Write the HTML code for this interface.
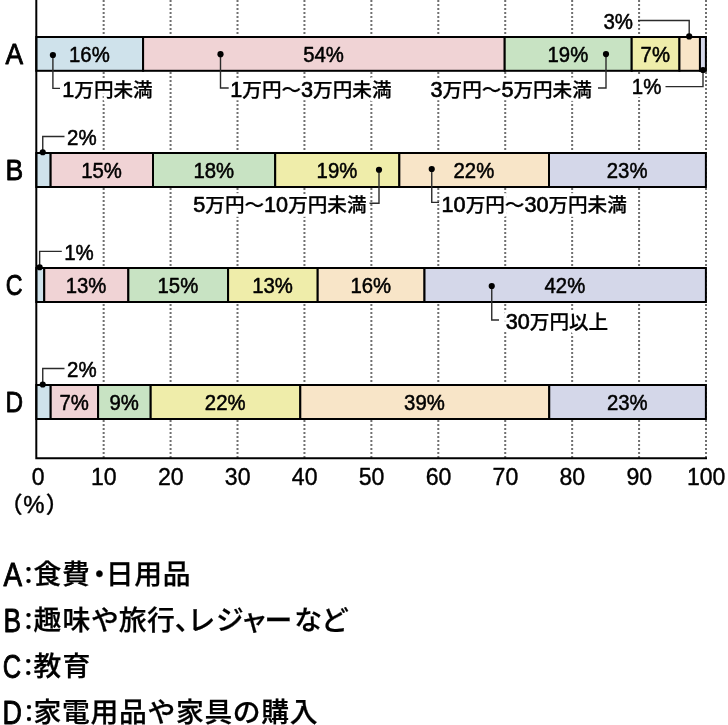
<!DOCTYPE html>
<html lang="ja"><head><meta charset="utf-8">
<style>
html,body{margin:0;padding:0;background:#fff;}
body{width:728px;height:725px;overflow:hidden;position:relative;}
svg{position:absolute;left:0;top:0;display:block;}
text{font-family:"Liberation Sans", "Noto Sans CJK JP", sans-serif;font-weight:500;fill:#000;}
.pct{font-size:21.6px;text-anchor:middle;stroke:#000;stroke-width:0.5px;stroke-linejoin:round;}
.lab{font-size:19.6px;filter:url(#halo);stroke:#000;stroke-width:0.25px;stroke-linejoin:round;}
.lab .l{font-size:21.6px;stroke:#000;stroke-width:0.65px;stroke-linejoin:round;}
.out{filter:url(#halo);font-size:21.5px;}
.cat{font-size:30.1px;stroke:#000;stroke-width:0.85px;stroke-linejoin:round;}
.tick{font-size:24.2px;text-anchor:middle;stroke:#000;stroke-width:0.4px;stroke-linejoin:round;}
.unit{font-size:22.6px;stroke:#000;stroke-width:0.3px;}
.unit .l{font-size:23.9px;stroke:#000;stroke-width:0.45px;}
.leg{font-size:27.8px;stroke:#000;stroke-width:0.25px;stroke-linejoin:round;}
.leg .l{font-size:33.8px;stroke:#000;stroke-width:0.9px;stroke-linejoin:round;}
.leg .c{font-size:24px;}
.grid{stroke:#707070;stroke-width:2;stroke-dasharray:2 2;fill:none;}
.seg{stroke:#000;stroke-width:2;}
.axis{stroke:#000;stroke-width:2;fill:none;stroke-linecap:square;}
.lead{stroke:#2b2b2b;stroke-width:1.4;fill:none;}
.dot{fill:#000;}
</style></head><body>
<svg width="728" height="725" viewBox="0 0 728 725">
<defs><filter id="halo" x="-10%" y="-30%" width="120%" height="160%" color-interpolation-filters="sRGB"><feMorphology in="SourceAlpha" operator="dilate" radius="2.5" result="d"/><feFlood flood-color="#fff" result="w"/><feComposite in="w" in2="d" operator="in" result="h"/><feMerge><feMergeNode in="h"/><feMergeNode in="SourceGraphic"/></feMerge></filter></defs>
<rect x="0" y="0" width="728" height="725" fill="#fff"/>
<line class="grid" x1="103.66" y1="0" x2="103.66" y2="458" />
<line class="grid" x1="170.58" y1="0" x2="170.58" y2="458" />
<line class="grid" x1="237.51" y1="0" x2="237.51" y2="458" />
<line class="grid" x1="304.44" y1="0" x2="304.44" y2="458" />
<line class="grid" x1="371.37" y1="0" x2="371.37" y2="458" />
<line class="grid" x1="438.29" y1="0" x2="438.29" y2="458" />
<line class="grid" x1="505.22" y1="0" x2="505.22" y2="458" />
<line class="grid" x1="572.15" y1="0" x2="572.15" y2="458" />
<line class="grid" x1="639.07" y1="0" x2="639.07" y2="458" />
<line class="grid" x1="706.00" y1="0" x2="706.00" y2="458" />
<rect class="seg" x="36.30" y="37.00" width="106.80" height="33.80" fill="#cfe2eb"/>
<rect class="seg" x="143.10" y="37.00" width="361.60" height="33.80" fill="#f0d3d5"/>
<rect class="seg" x="504.70" y="37.00" width="127.00" height="33.80" fill="#c8e3c3"/>
<rect class="seg" x="631.70" y="37.00" width="47.75" height="33.80" fill="#efedaa"/>
<rect class="seg" x="679.45" y="37.00" width="20.50" height="33.80" fill="#f8e5c8"/>
<rect class="seg" x="699.95" y="37.00" width="5.95" height="33.80" fill="#d4d7e9"/>
<text class="pct" x="89.40" y="62.00" textLength="40.7" lengthAdjust="spacingAndGlyphs">16%</text>
<text class="pct" x="323.60" y="62.00" textLength="40.7" lengthAdjust="spacingAndGlyphs">54%</text>
<text class="pct" x="567.90" y="62.00" textLength="40.7" lengthAdjust="spacingAndGlyphs">19%</text>
<text class="pct" x="655.28" y="62.00" textLength="29.4" lengthAdjust="spacingAndGlyphs">7%</text>
<rect class="seg" x="36.30" y="153.00" width="14.35" height="34.00" fill="#cfe2eb"/>
<rect class="seg" x="50.65" y="153.00" width="102.35" height="34.00" fill="#f0d3d5"/>
<rect class="seg" x="153.00" y="153.00" width="122.20" height="34.00" fill="#c8e3c3"/>
<rect class="seg" x="275.20" y="153.00" width="124.15" height="34.00" fill="#efedaa"/>
<rect class="seg" x="399.35" y="153.00" width="149.65" height="34.00" fill="#f8e5c8"/>
<rect class="seg" x="549.00" y="153.00" width="156.90" height="34.00" fill="#d4d7e9"/>
<text class="pct" x="101.53" y="178.00" textLength="40.7" lengthAdjust="spacingAndGlyphs">15%</text>
<text class="pct" x="213.80" y="178.00" textLength="40.7" lengthAdjust="spacingAndGlyphs">18%</text>
<text class="pct" x="336.97" y="178.00" textLength="40.7" lengthAdjust="spacingAndGlyphs">19%</text>
<text class="pct" x="473.88" y="178.00" textLength="40.7" lengthAdjust="spacingAndGlyphs">22%</text>
<text class="pct" x="627.15" y="178.00" textLength="40.7" lengthAdjust="spacingAndGlyphs">23%</text>
<rect class="seg" x="36.30" y="268.00" width="7.95" height="34.00" fill="#cfe2eb"/>
<rect class="seg" x="44.25" y="268.00" width="84.10" height="34.00" fill="#f0d3d5"/>
<rect class="seg" x="128.35" y="268.00" width="99.75" height="34.00" fill="#c8e3c3"/>
<rect class="seg" x="228.10" y="268.00" width="89.60" height="34.00" fill="#efedaa"/>
<rect class="seg" x="317.70" y="268.00" width="106.80" height="34.00" fill="#f8e5c8"/>
<rect class="seg" x="424.50" y="268.00" width="281.40" height="34.00" fill="#d4d7e9"/>
<text class="pct" x="86.00" y="293.00" textLength="40.7" lengthAdjust="spacingAndGlyphs">13%</text>
<text class="pct" x="177.92" y="293.00" textLength="40.7" lengthAdjust="spacingAndGlyphs">15%</text>
<text class="pct" x="272.60" y="293.00" textLength="40.7" lengthAdjust="spacingAndGlyphs">13%</text>
<text class="pct" x="370.80" y="293.00" textLength="40.7" lengthAdjust="spacingAndGlyphs">16%</text>
<text class="pct" x="564.90" y="293.00" textLength="40.7" lengthAdjust="spacingAndGlyphs">42%</text>
<rect class="seg" x="36.30" y="385.00" width="14.40" height="34.00" fill="#cfe2eb"/>
<rect class="seg" x="50.70" y="385.00" width="47.40" height="34.00" fill="#f0d3d5"/>
<rect class="seg" x="98.10" y="385.00" width="52.60" height="34.00" fill="#c8e3c3"/>
<rect class="seg" x="150.70" y="385.00" width="149.60" height="34.00" fill="#efedaa"/>
<rect class="seg" x="300.30" y="385.00" width="248.95" height="34.00" fill="#f8e5c8"/>
<rect class="seg" x="549.25" y="385.00" width="156.65" height="34.00" fill="#d4d7e9"/>
<text class="pct" x="74.10" y="410.00" textLength="29.4" lengthAdjust="spacingAndGlyphs">7%</text>
<text class="pct" x="124.10" y="410.00" textLength="29.4" lengthAdjust="spacingAndGlyphs">9%</text>
<text class="pct" x="225.20" y="410.00" textLength="40.7" lengthAdjust="spacingAndGlyphs">22%</text>
<text class="pct" x="424.47" y="410.00" textLength="40.7" lengthAdjust="spacingAndGlyphs">39%</text>
<text class="pct" x="627.28" y="410.00" textLength="40.7" lengthAdjust="spacingAndGlyphs">23%</text>
<path class="axis" d="M36.3 0 V458.2 H706" />
<text class="cat" x="5.40" y="64.00" textLength="17.6" lengthAdjust="spacingAndGlyphs">A</text>
<text class="cat" x="5.60" y="180.00" textLength="17.7" lengthAdjust="spacingAndGlyphs">B</text>
<text class="cat" x="5.70" y="295.00" textLength="16.8" lengthAdjust="spacingAndGlyphs">C</text>
<text class="cat" x="5.60" y="412.00" textLength="17.6" lengthAdjust="spacingAndGlyphs">D</text>
<text class="tick" x="38.03" y="485" textLength="12.8" lengthAdjust="spacingAndGlyphs">0</text>
<text class="tick" x="103.86" y="485" textLength="25.7" lengthAdjust="spacingAndGlyphs">10</text>
<text class="tick" x="170.78" y="485" textLength="25.7" lengthAdjust="spacingAndGlyphs">20</text>
<text class="tick" x="237.71" y="485" textLength="25.7" lengthAdjust="spacingAndGlyphs">30</text>
<text class="tick" x="304.64" y="485" textLength="25.7" lengthAdjust="spacingAndGlyphs">40</text>
<text class="tick" x="371.56" y="485" textLength="25.7" lengthAdjust="spacingAndGlyphs">50</text>
<text class="tick" x="438.49" y="485" textLength="25.7" lengthAdjust="spacingAndGlyphs">60</text>
<text class="tick" x="505.42" y="485" textLength="25.7" lengthAdjust="spacingAndGlyphs">70</text>
<text class="tick" x="572.35" y="485" textLength="25.7" lengthAdjust="spacingAndGlyphs">80</text>
<text class="tick" x="639.27" y="485" textLength="25.7" lengthAdjust="spacingAndGlyphs">90</text>
<text class="tick" x="706.20" y="485" textLength="38.5" lengthAdjust="spacingAndGlyphs">100</text>
<text class="unit" y="513.4"><tspan x="0">（</tspan><tspan class="l" x="23.3">%</tspan><tspan x="45.7">）</tspan></text>
<path class="lead" d="M52.9 55 V88.4 H60"/>
<circle class="dot" cx="52.90" cy="55.00" r="3.1"/>
<text class="lab" x="62.30" y="96.60"><tspan class="l">1</tspan>万円未満</text>
<path class="lead" d="M220.5 54 V88 H228.7"/>
<circle class="dot" cx="220.50" cy="54.20" r="3.1"/>
<text class="lab" x="230.30" y="96.60"><tspan class="l">1</tspan>万円～<tspan class="l">3</tspan>万円未満</text>
<path class="lead" d="M606 54 V88 H598"/>
<circle class="dot" cx="606.00" cy="54.10" r="3.1"/>
<text class="lab" x="430.60" y="96.60"><tspan class="l">3</tspan>万円～<tspan class="l">5</tspan>万円未満</text>
<path class="lead" d="M689.2 36.5 V20.5 H638"/>
<circle class="dot" cx="689.20" cy="36.40" r="3.1"/>
<text class="pct out" x="633.00" y="29.00" style="text-anchor:end" textLength="29.6" lengthAdjust="spacingAndGlyphs">3%</text>
<path class="lead" d="M703 70 V86.6 H665.5"/>
<circle class="dot" cx="703.00" cy="70.00" r="3.1"/>
<text class="pct out" x="661.40" y="93.80" style="text-anchor:end" textLength="29.6" lengthAdjust="spacingAndGlyphs">1%</text>
<path class="lead" d="M42.75 152 V136.5 H64.5"/>
<circle class="dot" cx="42.75" cy="152.25" r="3.1"/>
<text class="pct out" x="67.00" y="144.50" style="text-anchor:start" textLength="29.6" lengthAdjust="spacingAndGlyphs">2%</text>
<path class="lead" d="M379 169.75 V203.3 H369.5"/>
<circle class="dot" cx="379.00" cy="169.75" r="3.1"/>
<text class="lab" x="193.30" y="211.50"><tspan class="l">5</tspan>万円～<tspan class="l">10</tspan>万円未満</text>
<path class="lead" d="M431.75 169 V202.4 H439"/>
<circle class="dot" cx="431.75" cy="169.00" r="3.1"/>
<text class="lab" x="441.60" y="211.50"><tspan class="l">10</tspan>万円～<tspan class="l">30</tspan>万円未満</text>
<path class="lead" d="M39.65 267 V251.4 H61.8"/>
<circle class="dot" cx="39.65" cy="267.25" r="3.1"/>
<text class="pct out" x="64.20" y="259.50" style="text-anchor:start" textLength="29.6" lengthAdjust="spacingAndGlyphs">1%</text>
<path class="lead" d="M491.75 286 V320 H499"/>
<circle class="dot" cx="491.75" cy="286.00" r="3.1"/>
<text class="lab" x="505.80" y="329.00"><tspan class="l">30</tspan>万円以上</text>
<path class="lead" d="M42.75 384.5 V368.5 H64.5"/>
<circle class="dot" cx="42.75" cy="384.50" r="3.1"/>
<text class="pct out" x="67.00" y="376.50" style="text-anchor:start" textLength="29.6" lengthAdjust="spacingAndGlyphs">2%</text>
<text class="leg" y="585.6"><tspan class="l" x="3.6" textLength="18.6" lengthAdjust="spacingAndGlyphs">A</tspan><tspan class="c" x="16.6" dy="-1.2">：</tspan><tspan x="33.6 62.1 85.6 105.7 134.2 162.7" dy="-0.2">食費・日用品</tspan></text>
<text class="leg" y="631.6"><tspan class="l" x="3.6" textLength="17.6" lengthAdjust="spacingAndGlyphs">B</tspan><tspan class="c" x="16.6" dy="-1.2">：</tspan><tspan x="33.6 62.4 91.0 118.8 147.1 174.8 187.6 216.0 240.3 264.5 294.3 321.0" dy="-0.2">趣味や旅行、レジャーなど</tspan></text>
<text class="leg" y="677.6"><tspan class="l" x="2.8" textLength="18.4" lengthAdjust="spacingAndGlyphs">C</tspan><tspan class="c" x="16.2" dy="-1.2">：</tspan><tspan x="33.4 62.4" dy="-0.2">教育</tspan></text>
<text class="leg" y="723.6"><tspan class="l" x="2.4" textLength="19.4" lengthAdjust="spacingAndGlyphs">D</tspan><tspan class="c" x="17.0" dy="-1.2">：</tspan><tspan x="33.6 62.1 90.5 119.0 147.4 175.9 204.4 232.8 261.3 289.7" dy="-0.2">家電用品や家具の購入</tspan></text>
</svg>
</body></html>
